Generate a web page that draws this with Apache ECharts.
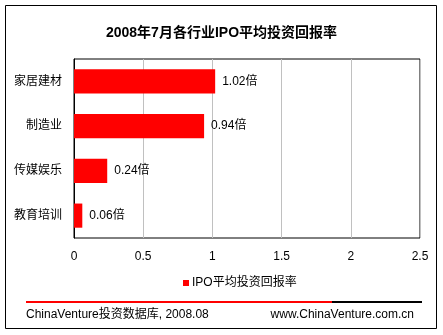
<!DOCTYPE html>
<html><head><meta charset="utf-8">
<script src="https://cdn.jsdelivr.net/npm/echarts@6/dist/echarts.min.js"></script>
<style>html,body{margin:0;padding:0;background:#fff}#c{width:443px;height:335px}</style>
</head><body><div id="c"></div>
<script>
const categories = ['家居建材', '制造业', '传媒娱乐', '教育培训'];
const values = [1.02, 0.94, 0.24, 0.06];
const seriesName = 'IPO平均投资回报率';
const titleText = '2008年7月各行业IPO平均投资回报率';
const footerLeft = 'ChinaVenture投资数据库, 2008.08';
const footerRight = 'www.ChinaVenture.com.cn';
const xMin = 0, xMax = 2.5, xInterval = 0.5;

const FONT = '"Liberation Sans", Arial, "Noto Sans CJK SC", sans-serif';
const chart = echarts.init(document.getElementById('c'), null, {renderer: 'canvas'});
chart.setOption({
  animation: false,
  backgroundColor: '#fff',
  textStyle: {fontFamily: FONT},
  title: {
    text: titleText, left: 'center', top: 21,
    textStyle: {fontSize: 14, fontWeight: 'bold', color: '#000', fontFamily: FONT}
  },
  legend: {
    data: [seriesName], left: 178, top: 272,
    itemWidth: 6, itemHeight: 6, itemGap: 4, icon: 'rect',
    textStyle: {fontSize: 12, color: '#000', fontFamily: FONT, padding: [0,0,0,-2]}
  },
  grid: {left: 74, top: 59, width: 346, height: 179, show: true, borderColor: '#000', borderWidth: 1, containLabel: false},
  xAxis: {
    type: 'value', min: xMin, max: xMax, interval: xInterval,
    axisLine: {show: false}, axisTick: {show: false},
    splitLine: {show: true, lineStyle: {color: '#c0c0c0', width: 1}},
    axisLabel: {fontSize: 12, color: '#000', margin: 13, fontFamily: FONT,
      formatter: v => String(v)}
  },
  yAxis: {
    type: 'category', data: categories, inverse: true,
    axisLine: {show: true, lineStyle: {color: '#000'}}, axisTick: {show: false},
    axisLabel: {fontSize: 12, color: '#000', margin: 12, fontFamily: FONT}
  },
  series: [{
    name: seriesName, type: 'bar', data: values,
    barCategoryGap: '46%',
    itemStyle: {color: '#ff0000'},
    label: {show: true, position: 'right', distance: 7, fontSize: 12, color: '#000', fontFamily: FONT,
      formatter: p => p.value + '倍'}
  }],
  graphic: [
    {type: 'rect', shape: {x: 5.5, y: 5.5, width: 431, height: 323}, style: {fill: 'none', stroke: '#000', lineWidth: 1}, z: -1},
    {type: 'line', shape: {x1: 26, y1: 302, x2: 332, y2: 302}, style: {stroke: '#ff0000', lineWidth: 2}},
    {type: 'line', shape: {x1: 332, y1: 302, x2: 422, y2: 302}, style: {stroke: '#000', lineWidth: 2}},
    {type: 'text', left: 26, top: 309, style: {text: footerLeft, fontSize: 12, fill: '#000', fontFamily: FONT}},
    {type: 'text', right: 29, top: 309, style: {text: footerRight, fontSize: 12, fill: '#000', fontFamily: FONT}}
  ]
});
</script></body></html>
